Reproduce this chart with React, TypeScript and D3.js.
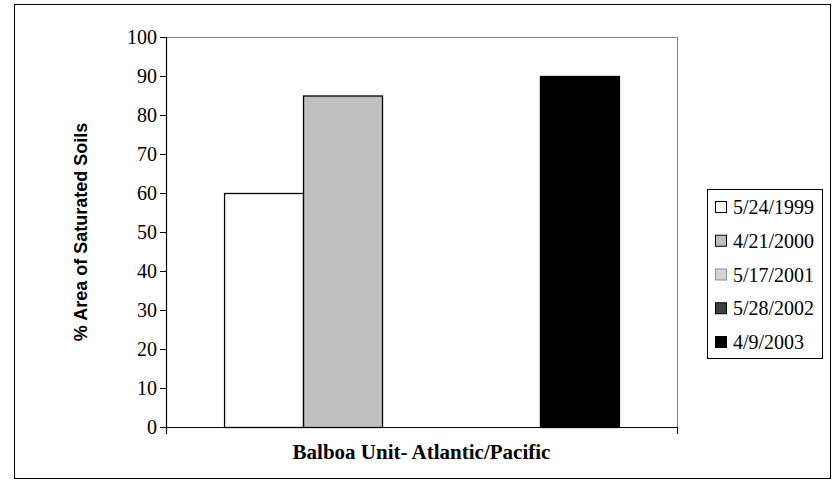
import React from "react";
import * as d3 from "d3";

const categories = ["Balboa Unit- Atlantic/Pacific"];
const seriesNames = ["5/24/1999", "4/21/2000", "5/17/2001", "5/28/2002", "4/9/2003"];
const seriesValues = [60, 85, 0, 0, 90];
const seriesFills = ["#FFFFFF", "#C0C0C0", "#D4D4D4", "#404040", "#000000"];
const seriesStrokes = ["#000000", "#000000", "#909090", "#000000", "#000000"];
const yTicks = [0, 10, 20, 30, 40, 50, 60, 70, 80, 90, 100];
const yTitle = "% Area of Saturated Soils";

const W = 834;
const H = 481;
const plot = { left: 166, right: 677, top: 37, bottom: 427 };

const css = `
#chart-root svg text.sr, svg#chart text.sr { font-family: "Liberation Serif", "Times New Roman", serif !important; font-size: 20px !important; font-weight: normal !important; }
#chart-root svg text.srb, svg#chart text.srb { font-family: "Liberation Serif", "Times New Roman", serif !important; font-size: 21px !important; font-weight: bold !important; }
#chart-root svg text.ss, svg#chart text.ss { font-family: "Liberation Sans", Arial, sans-serif !important; font-size: 18px !important; font-weight: bold !important; }
`;

export default function App() {
  const x0 = d3
    .scaleBand<string>()
    .domain(categories)
    .range([plot.left, plot.right])
    .paddingInner(0)
    .paddingOuter(0.147);
  const x1 = d3
    .scaleBand<string>()
    .domain(seriesNames)
    .range([0, x0.bandwidth()])
    .padding(0);
  const y = d3.scaleLinear().domain([0, 100]).range([plot.bottom, plot.top]);

  const legend = { x: 707, y: 189, w: 115, h: 169 };
  const legendY = d3
    .scalePoint<string>()
    .domain(seriesNames)
    .range([legend.y + 18, legend.y + 153]);

  return (
    <div id="chart-root">
      <style>{css}</style>
      <svg id="chart" width={W} height={H} style={{ position: "absolute", left: 0, top: 0, display: "block" }}>
        <rect x={0} y={0} width={W} height={H} fill="#fff" />
        <rect x={14.5} y={4.5} width={816} height={474} fill="none" stroke="#000" strokeWidth={1} />

        <line x1={plot.left} x2={plot.right + 0.5} y1={plot.top + 0.5} y2={plot.top + 0.5} stroke="#808080" />
        <line x1={plot.right + 0.5} x2={plot.right + 0.5} y1={plot.top} y2={plot.bottom} stroke="#808080" />

        {categories.map((c) =>
          seriesNames.map((s, i) => {
            const v = seriesValues[i];
            const bx = (x0(c) ?? 0) + (x1(s) ?? 0);
            return (
              <rect
                key={s}
                x={bx + 0.5}
                y={y(v) + 0.5}
                width={x1.bandwidth()}
                height={Math.max(0, y(0) - y(v))}
                fill={seriesFills[i]}
                stroke={v > 0 ? seriesStrokes[i] : "none"}
                strokeWidth={1.3}
              />
            );
          })
        )}

        <line x1={plot.left + 0.5} x2={plot.left + 0.5} y1={plot.top} y2={plot.bottom + 7} stroke="#000" strokeWidth={1.2} />
        {yTicks.map((t) => (
          <g key={t}>
            <line x1={plot.left - 6} x2={plot.left} y1={y(t) + 0.5} y2={y(t) + 0.5} stroke="#000" />
            <text className="sr" fontFamily="Liberation Serif" x={plot.left - 9} y={y(t) + 6.5} textAnchor="end" fill="#000">
              {t}
            </text>
          </g>
        ))}

        <line x1={plot.left - 6} x2={plot.right + 0.5} y1={plot.bottom + 0.5} y2={plot.bottom + 0.5} stroke="#000" strokeWidth={1.2} />
        <line x1={plot.right + 0.5} x2={plot.right + 0.5} y1={plot.bottom} y2={plot.bottom + 7} stroke="#000" />

        {categories.map((c) => (
          <text
            key={c}
            className="srb"
            fontFamily="Liberation Serif"
            x={(x0(c) ?? 0) + x0.bandwidth() / 2}
            y={459}
            textAnchor="middle"
            fill="#000"
          >
            {c}
          </text>
        ))}

        <text
          className="ss"
          fontFamily="Liberation Sans"
          transform={`translate(87, ${(plot.top + plot.bottom) / 2}) rotate(-90)`}
          textAnchor="middle"
          fill="#000"
        >
          {yTitle}
        </text>

        <rect x={legend.x + 0.5} y={legend.y + 0.5} width={legend.w} height={legend.h} fill="#fff" stroke="#000" />
        {seriesNames.map((s, i) => {
          const cy = legendY(s) ?? 0;
          return (
            <g key={s}>
              <rect x={715.5} y={cy - 5.5} width={11} height={11} fill={seriesFills[i]} stroke={seriesStrokes[i]} strokeWidth={1} />
              <text className="sr" fontFamily="Liberation Serif" x={733} y={cy + 7} fill="#000">
                {s}
              </text>
            </g>
          );
        })}
      </svg>
    </div>
  );
}
